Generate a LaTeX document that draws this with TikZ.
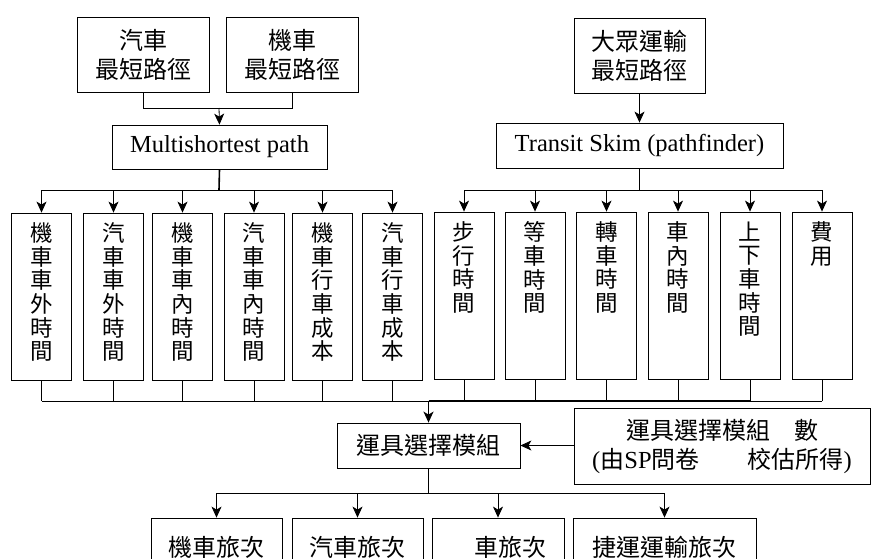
\documentclass[tikz,border=0pt]{standalone}
\usepackage{fontspec}
\setmainfont{Liberation Serif}
\newfontfamily\cjk{Noto Sans CJK TC}
\usetikzlibrary{arrows.meta}
\begin{document}
\begin{tikzpicture}[x=1pt,y=-1pt,
  box/.style={draw,line width=0.8pt,inner sep=0pt,align=center},
  cj/.style={font=\fontsize{24}{29}\selectfont\cjk},
  lat/.style={font=\fontsize{24.5}{29}\selectfont},
  vbox/.style={box,minimum width=60pt,minimum height=167pt},
  vtxt/.style={font=\fontsize{22.5}{23.6}\selectfont\cjk,align=center,inner sep=0pt,anchor=north},
  ln/.style={line width=0.8pt},
  thk/.style={line width=1.6pt},
  arr/.style={-{Stealth[length=11pt,width=10pt,inset=3pt]}},
]
\useasboundingbox (0,0) rectangle (872,558);
\clip (0,0) rectangle (872,558);

% top boxes
\node[box,cj,minimum width=132pt,minimum height=75pt] (car) at (143,54.5) {汽車\\最短路徑};
\node[box,cj,minimum width=132pt,minimum height=75pt] (moto) at (292,54.5) {機車\\最短路徑};
\node[box,cj,minimum width=131pt,minimum height=75pt] (transit) at (639.5,55.5) {大眾運輸\\最短路徑};
\node[box,lat,minimum width=215pt,minimum height=44pt] (multi) at (219.5,147) {Multishortest path};
\node[box,lat,minimum width=287pt,minimum height=45pt] (skim) at (639.5,145.5) {Transit Skim (pathfinder)};

% vertical boxes
\foreach \n/\x/\t in {l1/41.5/{機\\車\\車\\外\\時\\間},
                      l2/113.5/{汽\\車\\車\\外\\時\\間},
                      l3/182.5/{機\\車\\車\\內\\時\\間},
                      l4/254/{汽\\車\\車\\內\\時\\間},
                      l5/322.5/{機\\車\\行\\車\\成\\本},
                      l6/392.5/{汽\\車\\行\\車\\成\\本}}{
  \node[vbox] (\n) at (\x,296.5) {};
  \node[vtxt] (\n t) at ([yshift=-10pt]\n.north) {\t};
}
\foreach \n/\x/\t in {r1/464/{步\\行\\時\\間},
                      r2/535/{等\\車\\時\\間},
                      r3/606.5/{轉\\車\\時\\間},
                      r4/678/{車\\內\\時\\間},
                      r5/750/{上\\下\\車\\時\\間},
                      r6/822/{費\\用}}{
  \node[vbox] (\n) at (\x,295.5) {};
  \node[vtxt] (\n t) at ([yshift=-10pt]\n.north) {\t};
}

% mode choice
\node[box,cj,minimum width=183pt,minimum height=45pt] (mode) at (428.5,445.5) {運具選擇模組};
\node[box,cj,minimum width=296pt,minimum height=76pt] (sp) at (722,446) {運具選擇模組　數\\{\fontsize{24.5}{29}\selectfont\rmfamily(}由{\fontsize{24.5}{29}\selectfont\rmfamily SP}問卷　　校估所得{\fontsize{24.5}{29}\selectfont\rmfamily)}};

% bottom boxes
\node[box,cj,minimum width=131pt,minimum height=58pt] (b1) at (216.5,547) {機車旅次};
\node[box,cj,minimum width=131pt,minimum height=58pt] (b2) at (357.5,547) {汽車旅次};
\node[box,cj,minimum width=132pt,minimum height=58pt] (b3) at (498,547) {　車旅次};
\node[box,cj,minimum width=183pt,minimum height=58pt] (b4) at (664.5,547) {捷運運輸旅次};

% connectors top
\coordinate (j1) at (219,108);
\draw[ln] (car.south) -- (car.south |- j1) -- (moto.south |- j1) -- (moto.south);
\draw[ln,arr] (j1) -- (multi.north);
\draw[ln,arr] (transit.south) -- (skim.north);

\coordinate (j2) at (219,190);
\draw[thk] (multi.south) -- (j2);
\draw[ln] (l1.north |- j2) -- (l6.north |- j2);
\foreach \n in {l1,l2,l3,l4,l5,l6}{\draw[ln,arr] (\n.north |- j2) -- (\n.north);}

\coordinate (j3) at (639.5,190);
\draw[thk] (skim.south) -- (j3);
\draw[ln] (r1.north |- j3) -- (r6.north |- j3);
\foreach \n in {r1,r2,r3,r4,r5,r6}{\draw[ln,arr] (\n.north |- j3) -- (\n.north);}

% collecting
\coordinate (j4) at (428.5,401);
\foreach \n in {l1,l2,l3,l4,l5,l6,r1,r2,r3,r4,r5,r6}{\draw[ln] (\n.south) -- (\n.south |- j4);}
\draw[ln] (l1.south |- j4) -- (r6.south |- j4);
\draw[thk] (j4) -- (r5.south |- j4);
\draw[thk,arr] (j4) -- (mode.north);

\draw[ln,arr] (sp.west |- mode.east) -- (mode.east);

% distribution
\coordinate (j5) at (428.5,493);
\draw[ln] (mode.south) -- (j5);
\draw[ln] (b1.north |- j5) -- (b4.north |- j5);
\foreach \n in {b1,b2,b3,b4}{\draw[ln,arr] (\n.north |- j5) -- (\n.north);}
\end{tikzpicture}
\end{document}
